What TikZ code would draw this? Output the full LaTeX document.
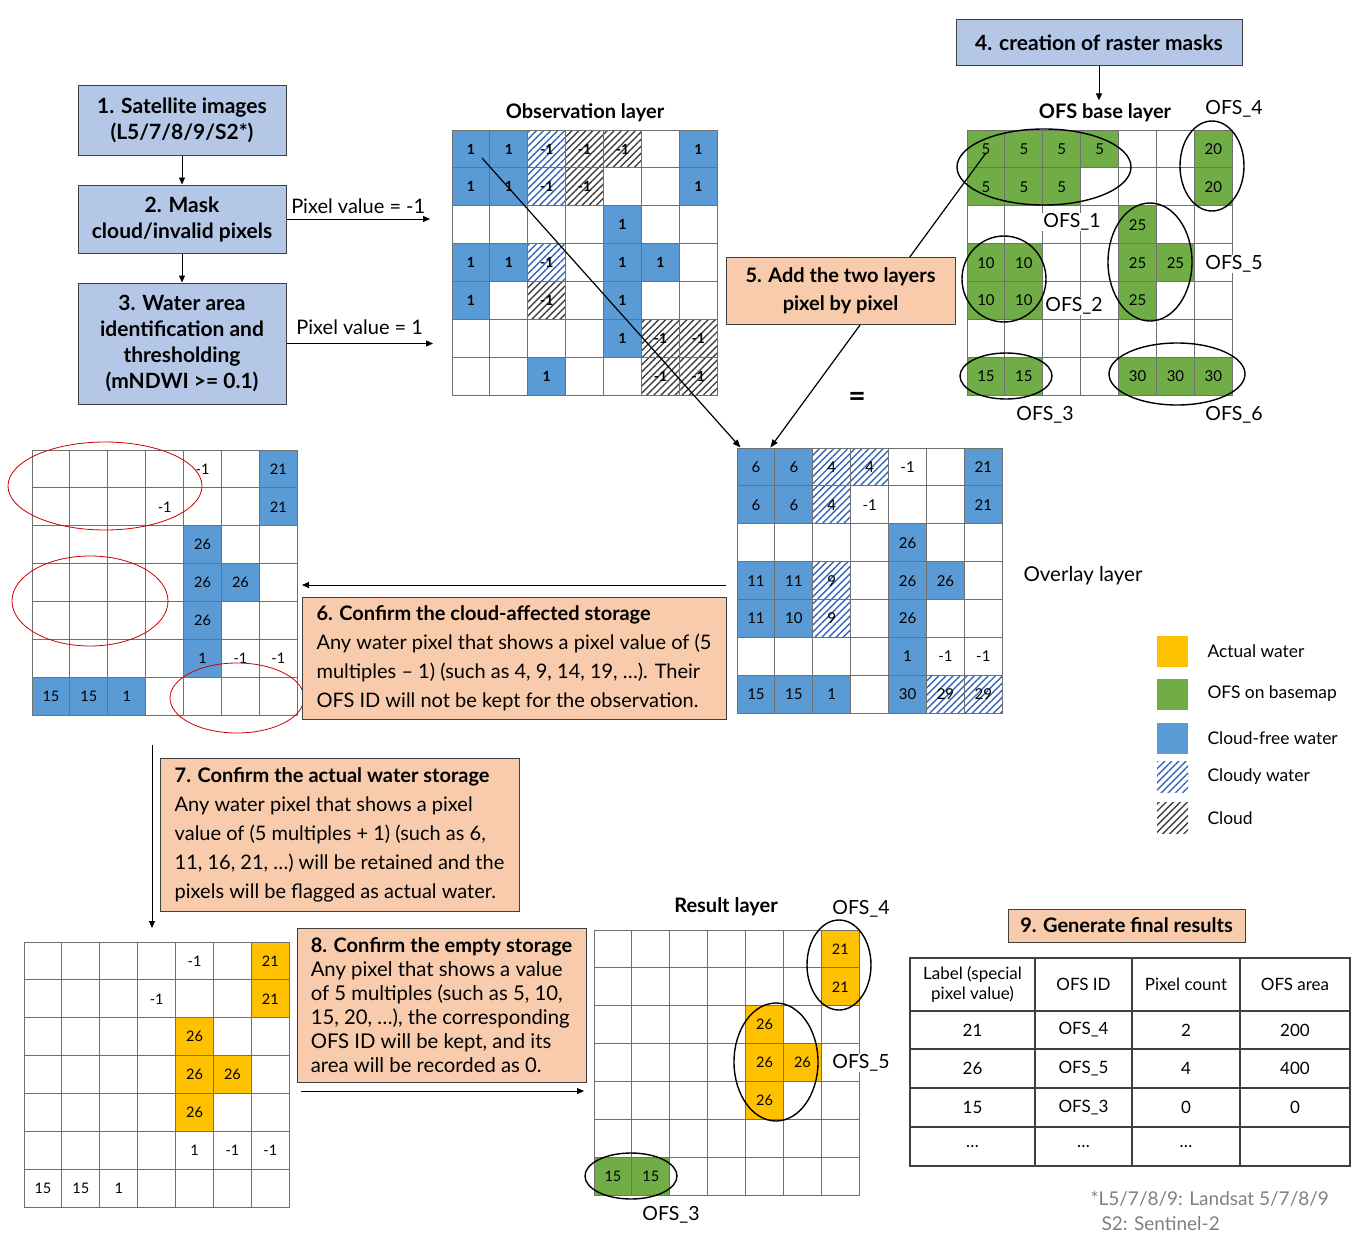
\documentclass[tikz,border=0pt]{standalone}
\usepackage{fontspec}
\setmainfont{Lato}
\usetikzlibrary{arrows.meta, positioning, calc, patterns.meta}
\definecolor{waterblue}{HTML}{5B9BD5}
\definecolor{ofsgreen}{HTML}{70AD47}
\definecolor{actyellow}{HTML}{FFC000}
\definecolor{stepblue}{HTML}{B4C7E7}
\definecolor{stepsalmon}{HTML}{F8CBAD}
\definecolor{cloudyblue}{HTML}{3465B8}
\definecolor{cloudgray}{HTML}{404040}
\definecolor{gridgray}{HTML}{707070}
\definecolor{notegray}{HTML}{808080}
\newcommand{\fsz}[2]{\fontsize{#1}{#2}\selectfont}
% 7x7 pixel grid: name, top-left corner
\newcommand{\pixgrid}[2]{%
  \foreach \r in {1,...,7}{%
    \foreach \c in {1,...,7}{%
      \node[pix] (#1-\r-\c) at ($(#2)+(\c*37.9-18.95,\r*37.9-18.95)$) {};}}}

\begin{document}
\begin{tikzpicture}[x=1pt, y=-1pt,
    pix/.style={draw=gridgray, line width=0.9pt, minimum size=37.9pt, inner sep=0pt, font=\fsz{14.5}{16}},
    pxblue/.style={fill=waterblue},
    pxgreen/.style={fill=ofsgreen},
    pxyel/.style={fill=actyellow},
    pxcloudy/.style={pattern={Lines[angle=45, distance=5pt, line width=1.4pt]}, pattern color=cloudyblue},
    pxcloud/.style={pattern={Lines[angle=45, distance=5pt, line width=1.4pt]}, pattern color=cloudgray},
    pxnone/.style={},
    swatch/.style={minimum size=31pt, inner sep=0pt},
    flowbox/.style={rectangle, draw=cloudgray, line width=1pt, fill=stepblue, align=center, font=\bfseries\fsz{21}{26}, inner sep=2pt},
    notebox/.style={rectangle, draw=cloudgray, line width=1pt, fill=stepsalmon, align=left, inner sep=2pt},
    arrow/.style={-{Triangle[length=7pt, width=6pt]}, line width=1pt},
    ring/.style={line width=1.4pt},
    redring/.style={draw=red!80!black, line width=0.8pt},
    ofslabel/.style={fill=white, inner sep=1pt, font=\fsz{19.5}{22}},
    layertitle/.style={font=\bfseries\fsz{20}{22}},
    tabline/.style={draw=cloudgray, line width=1.2pt},
    tabtext/.style={font=\fsz{17}{20}}
]
\useasboundingbox (0,0) rectangle (1361,1247);

% processing steps on the left
\node[flowbox, minimum width=208pt, minimum height=69pt] (s1) at (182,120.5) {1. Satellite images\\(L5/7/8/9/S2*)};
\node[flowbox, minimum width=208pt, minimum height=68pt] (s2) at (182,219) {2. Mask\\cloud/invalid pixels};
\node[flowbox, minimum width=208pt, minimum height=121pt] (s3) at (182,343.5) {3. Water area\\identification and\\thresholding\\(mNDWI >= 0.1)};
\node[flowbox, minimum width=286pt, minimum height=46pt] (s4) at (1099,43) {4. creation of raster masks};

\draw[arrow] (s1) -- (s2);
\draw[arrow] (s2) -- (s3);

\coordinate (cloudin) at (430,219);
\coordinate (waterin) at (433,343.5);
\draw[arrow] (s2.east) -- node[above=2pt, font=\fsz{20}{22}] {Pixel value = -1} (cloudin);
\draw[arrow] (s3.east) -- node[above=5pt, font=\fsz{20}{22}] {Pixel value = 1} (waterin);

% observation layer
\node[layertitle] (obstitle) at (585,113) {Observation layer};
\pixgrid{obs}{452,130}
\foreach \r/\c/\t/\v in {1/1/pxblue/1, 1/2/pxblue/1, 1/3/pxcloudy/-1, 1/4/pxcloud/-1, 1/5/pxcloud/-1, 1/7/pxblue/1,
    2/1/pxblue/1, 2/2/pxblue/1, 2/3/pxcloudy/-1, 2/4/pxcloud/-1, 2/7/pxblue/1,
    3/5/pxblue/1,
    4/1/pxblue/1, 4/2/pxblue/1, 4/3/pxcloudy/-1, 4/5/pxblue/1, 4/6/pxblue/1,
    5/1/pxblue/1, 5/3/pxcloud/-1, 5/5/pxblue/1,
    6/5/pxblue/1, 6/6/pxcloud/-1, 6/7/pxcloud/-1,
    7/3/pxblue/1, 7/6/pxcloud/-1, 7/7/pxcloud/-1}
  \node[pix, \t, font=\bfseries\fsz{14}{16}] (obs-\r-\c-v) at (obs-\r-\c) {\v};

% OFS base layer
\node[layertitle] (basetitle) at (1105,113) {OFS base layer};
\draw[arrow] (s4.south) -- (s4.south |- basetitle.north);
\pixgrid{base}{967,130}
\foreach \r/\c/\v in {1/1/5, 1/2/5, 1/3/5, 1/4/5, 1/7/20, 2/1/5, 2/2/5, 2/3/5, 2/7/20,
    3/5/25, 4/1/10, 4/2/10, 4/5/25, 4/6/25, 5/1/10, 5/2/10, 5/5/25,
    7/1/15, 7/2/15, 7/5/30, 7/6/30, 7/7/30}
  \node[pix, pxgreen, font=\fsz{15}{16}] (base-\r-\c-v) at (base-\r-\c) {\v};
\node[ofslabel] (ofs1) at (1072,222) {OFS\_1};
\node[ofslabel] (ofs2) at (1074,306) {OFS\_2};
\node[ofslabel] (ofs3) at (1045,415) {OFS\_3};
\node[ofslabel] (ofs4) at (1234,109) {OFS\_4};
\node[ofslabel] (ofs5) at (1234,264) {OFS\_5};
\node[ofslabel] (ofs6) at (1234,415) {OFS\_6};
\draw[ring] (1044,167) ellipse [x radius=87, y radius=38];
\draw[ring] (1004,279) ellipse [x radius=42, y radius=43];
\draw[ring] (1006,376) ellipse [x radius=46, y radius=23];
\draw[ring] (1212,166) ellipse [x radius=32, y radius=45];
\draw[ring] (1150,262) ellipse [x radius=42, y radius=59];
\draw[ring] (1177,374) ellipse [x radius=68, y radius=31];

% overlay layer
\node[font=\fsz{20.5}{22}] (ovltitle) at (1083,576) {Overlay layer};
\pixgrid{ovl}{737,448}
\foreach \r/\c/\t/\v in {1/1/pxblue/6, 1/2/pxblue/6, 1/3/pxcloudy/4, 1/4/pxcloudy/4, 1/5/pxnone/-1, 1/7/pxblue/21,
    2/1/pxblue/6, 2/2/pxblue/6, 2/3/pxcloudy/4, 2/4/pxnone/-1, 2/7/pxblue/21,
    3/5/pxblue/26,
    4/1/pxblue/11, 4/2/pxblue/11, 4/3/pxcloudy/9, 4/5/pxblue/26, 4/6/pxblue/26,
    5/1/pxblue/11, 5/2/pxblue/10, 5/3/pxcloudy/9, 5/5/pxblue/26,
    6/5/pxblue/1, 6/6/pxnone/-1, 6/7/pxnone/-1,
    7/1/pxblue/15, 7/2/pxblue/15, 7/3/pxblue/1, 7/5/pxblue/30, 7/6/pxcloudy/29, 7/7/pxcloudy/29}
  \node[pix, \t, font=\fsz{15}{16}] (ovl-\r-\c-v) at (ovl-\r-\c) {\v};
\node[font=\bfseries\fsz{30}{30}] (equal) at (857,399) {=};

% adding both layers
\draw[line width=1.2pt, -{Triangle[length=8pt, width=6pt]}] ($(obs-1-1)+(11,9)$) -- ($(ovl-1-1.north west)+(4,0)$);
\draw[line width=1.2pt, -{Triangle[length=8pt, width=6pt]}] ($(base-1-1)+(0,4)$) -- ($(ovl-1-1.north east)+(-5,0)$);
\node[notebox, align=center, font=\bfseries\fsz{20}{28}, minimum width=229pt, minimum height=67pt] (s5) at (840.5,290.5) {5. Add the two layers\\pixel by pixel};

% cloud-affected check
\pixgrid{cld}{32,450}
\foreach \r/\c/\t/\v in {1/5/pxnone/-1, 1/7/pxblue/21, 2/4/pxnone/-1, 2/7/pxblue/21,
    3/5/pxblue/26, 4/5/pxblue/26, 4/6/pxblue/26, 5/5/pxblue/26,
    6/5/pxblue/1, 6/6/pxnone/-1, 6/7/pxnone/-1,
    7/1/pxblue/15, 7/2/pxblue/15, 7/3/pxblue/1}
  \node[pix, \t] (cld-\r-\c-v) at (cld-\r-\c) {\v};
\draw[redring] (105,486) ellipse [x radius=97, y radius=44];
\draw[redring] (90,601) ellipse [x radius=78, y radius=45];
\draw[redring] (237,698) ellipse [x radius=67, y radius=35];
\coordinate (ovlout) at (726,585);
\coordinate (cldin) at (302,585);
\draw[arrow] (ovlout) -- (cldin);
\node[notebox, font=\fsz{20}{29}, minimum width=424pt, minimum height=122pt] (s6) at (514,658)
  {{\bfseries\fsz{20}{29}6. Confirm the cloud-affected storage}\\
   Any water pixel that shows a pixel value of (5\\
   multiples – 1) (such as 4, 9, 14, 19, …). Their\\
   OFS ID will not be kept for the observation.};

% actual water check
\coordinate (cldout) at (152,745);
\coordinate (actin) at (152,928);
\draw[arrow] (cldout) -- (actin);
\node[notebox, font=\fsz{20}{29}, minimum width=359pt, minimum height=153pt] (s7) at (339.5,834.5)
  {{\bfseries\fsz{20}{29}7. Confirm the actual water storage}\\
   Any water pixel that shows a pixel\\
   value of (5 multiples + 1) (such as 6,\\
   11, 16, 21, …) will be retained and the\\
   pixels will be flagged as actual water.};
\pixgrid{act}{24,942}
\foreach \r/\c/\t/\v in {1/5/pxnone/-1, 1/7/pxyel/21, 2/4/pxnone/-1, 2/7/pxyel/21,
    3/5/pxyel/26, 4/5/pxyel/26, 4/6/pxyel/26, 5/5/pxyel/26,
    6/5/pxnone/1, 6/6/pxnone/-1, 6/7/pxnone/-1,
    7/1/pxnone/15, 7/2/pxnone/15, 7/3/pxnone/1}
  \node[pix, \t] (act-\r-\c-v) at (act-\r-\c) {\v};

% empty storage check
\node[notebox, font=\fsz{20.3}{24}, minimum width=289pt, minimum height=154pt] (s8) at (441.5,1005)
  {{\bfseries\fsz{20}{24}8. Confirm the empty storage}\\
   Any pixel that shows a value\\
   of 5 multiples (such as 5, 10,\\
   15, 20, …), the corresponding\\
   OFS ID will be kept, and its\\
   area will be recorded as 0.};
\coordinate (actout) at (301,1091);
\coordinate (resin) at (584,1091);
\draw[arrow] (actout) -- (resin);

% result layer
\node[layertitle] (restitle) at (726,907) {Result layer};
\pixgrid{res}{594,930}
\foreach \r/\c/\t/\v in {1/7/pxyel/21, 2/7/pxyel/21, 3/5/pxyel/26, 4/5/pxyel/26, 4/6/pxyel/26, 5/5/pxyel/26,
    7/1/pxgreen/15, 7/2/pxgreen/15}
  \node[pix, \t] (res-\r-\c-v) at (res-\r-\c) {\v};
\node[ofslabel] (rofs4) at (861,909) {OFS\_4};
\node[ofslabel] (rofs5) at (861,1063) {OFS\_5};
\node[ofslabel] (rofs3) at (671,1215) {OFS\_3};
\draw[ring] (839,965) ellipse [x radius=32, y radius=45];
\draw[ring] (776,1062) ellipse [x radius=42, y radius=59];
\draw[ring] (631,1176) ellipse [x radius=46, y radius=23];

% final results table
\node[notebox, align=center, font=\bfseries\fsz{20}{22}, minimum width=237pt, minimum height=33pt] (s9) at (1126.5,925.5) {9. Generate final results};
\draw[tabline] (910,958) rectangle (1350,1166);
\foreach \y in {1011,1049,1088,1127} \draw[tabline] (910,\y) -- (1350,\y);
\foreach \x in {1035,1132,1240} \draw[tabline] (\x,958) -- (\x,1166);
\node[tabtext, align=center] (t-0-1) at (972.5,984.5) {Label (special\\pixel value)};
\node[tabtext] (t-0-2) at (1083.5,984.5) {OFS ID};
\node[tabtext] (t-0-3) at (1186,984.5) {Pixel count};
\node[tabtext] (t-0-4) at (1295,984.5) {OFS area};
\foreach \r/\y/\a/\b/\p/\q in {1/1030/21/OFS\_4/2/200, 2/1068.5/26/OFS\_5/4/400, 3/1107.5/15/OFS\_3/0/0} {
  \node[tabtext] (t-\r-1) at (972.5,\y) {\a};
  \node[tabtext] (t-\r-2) at (1083.5,\y) {\b};
  \node[tabtext] (t-\r-3) at (1186,\y) {\p};
  \node[tabtext] (t-\r-4) at (1295,\y) {\q};
}
\node[tabtext] (t-4-1) at (972.5,1146.5) {…};
\node[tabtext] (t-4-2) at (1083.5,1146.5) {…};
\node[tabtext] (t-4-3) at (1186,1146.5) {…};
\node[anchor=west, text=notegray, font=\fsz{19}{22}] (note1) at (1087,1199) {*L5/7/8/9: Landsat 5/7/8/9};
\node[anchor=west, text=notegray, font=\fsz{19}{22}] (note2) at (1098,1224) {S2: Sentinel-2};

% legend
\foreach \n/\y/\t/\l in {1/651/pxyel/Actual water, 2/694/pxgreen/OFS on basemap, 3/738/pxblue/Cloud-free water,
    4/777/pxcloudy/Cloudy water, 5/818/pxcloud/Cloud} {
  \node[swatch, \t] (key\n) at (1172.5,\y) {};
  \node[anchor=west, font=\fsz{17.4}{20}] (keytext\n) at (1204,\y) {\l};
}
\end{tikzpicture}
\end{document}
